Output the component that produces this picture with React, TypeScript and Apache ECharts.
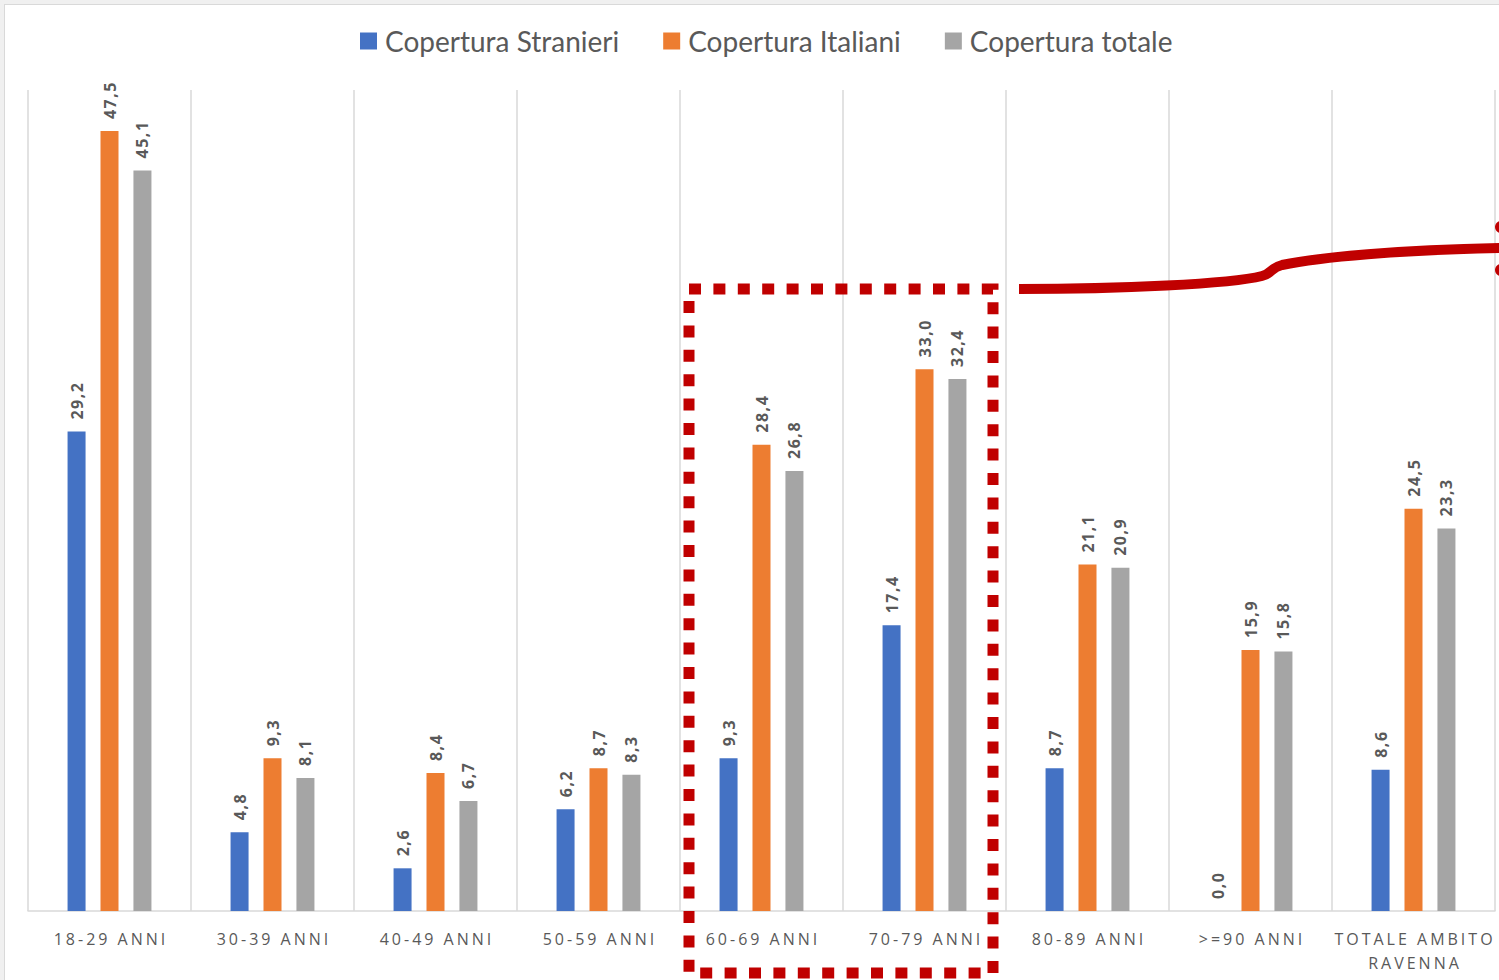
import React, { useEffect, useRef } from "react";
import * as echarts from "echarts";

const categories = [
  "18-29 ANNI",
  "30-39 ANNI",
  "40-49 ANNI",
  "50-59 ANNI",
  "60-69 ANNI",
  "70-79 ANNI",
  "80-89 ANNI",
  ">=90 ANNI",
  "TOTALE AMBITO\nRAVENNA",
];
const stranieri = [29.2, 4.8, 2.6, 6.2, 9.3, 17.4, 8.7, 0.0, 8.6];
const italiani = [47.5, 9.3, 8.4, 8.7, 28.4, 33.0, 21.1, 15.9, 24.5];
const totale = [45.1, 8.1, 6.7, 8.3, 26.8, 32.4, 20.9, 15.8, 23.3];
const seriesNames = ["Copertura Stranieri", "Copertura Italiani", "Copertura totale"];
const colors = ["#4472c4", "#ed7d31", "#a5a5a5"];

const bracePath =
  "M1019,289 C1120,289 1230,284 1262,276 C1273,273 1270,268 1282,265 C1320,257 1400,250 1500,248";
let registered = false;

export default function App() {
  const ref = useRef<HTMLDivElement>(null);
  useEffect(() => {
    if (!registered) {
      echarts.graphic.registerShape("brace", echarts.graphic.extendPath(bracePath, {}));
      registered = true;
    }
    const chart = echarts.init(ref.current!, null, { renderer: "svg" });
    const fmt = (p: any) => Number(p.value).toFixed(1).replace(".", ",");
    const mkSeries = (name: string, data: number[], color: string) => ({
      name,
      type: "bar",
      data,
      barWidth: 18,
      barGap: "83%",
      itemStyle: { color },
      label: {
        show: true,
        position: "top",
        rotate: 90,
        align: "left",
        verticalAlign: "middle",
        distance: 12,
        formatter: fmt,
        color: "#595959",
        fontFamily: "Open Sans",
        fontWeight: "bold",
        fontSize: 16,
      },
    });
    chart.setOption({
      animation: false,
      backgroundColor: "transparent",
      color: colors,
      legend: {
        top: 22,
        left: 355,
        itemWidth: 17,
        itemHeight: 17,
        itemGap: 44,
        icon: "rect",
        textStyle: { color: "#595959", fontFamily: "Lato", fontSize: 28, padding: [0, 0, 0, 3] },
        data: seriesNames,
      },
      grid: { left: 28, right: 4, top: 90, bottom: 69 },
      xAxis: {
        type: "category",
        data: categories,
        axisLine: { show: true, lineStyle: { color: "#d9d9d9", width: 1.5 } },
        axisTick: { show: false },
        splitLine: { show: true, lineStyle: { color: "#d9d9d9", width: 1.5 } },
        axisLabel: {
          color: "#595959",
          fontFamily: "Open Sans",
          fontSize: 16,
          lineHeight: 24,
          margin: 16,
          interval: 0,
        },
      },
      yAxis: {
        type: "value",
        min: 0,
        max: 50,
        show: false,
        splitLine: { show: false },
      },
      series: [
        mkSeries(seriesNames[0], stranieri, colors[0]),
        mkSeries(seriesNames[1], italiani, colors[1]),
        mkSeries(seriesNames[2], totale, colors[2]),
      ],
      graphic: [
        {
          type: "rect",
          z: 100,
          shape: { x: 689, y: 289, width: 304, height: 684 },
          style: { fill: "none", stroke: "#c00000", lineWidth: 11, lineDash: [12, 12.4] },
        },
        {
          type: "brace",
          z: 100,
          x: 0,
          y: 0,
          style: { fill: "none", stroke: "#c00000", lineWidth: 10 },
        },
        { type: "circle", z: 100, shape: { cx: 1501, cy: 227, r: 6 }, style: { fill: "#c00000" } },
        { type: "circle", z: 100, shape: { cx: 1501, cy: 270, r: 6 }, style: { fill: "#c00000" } },
      ],
    });
    const svg = ref.current!.querySelector("svg");
    if (svg) {
      svg.querySelectorAll("text").forEach((t) => {
        const s = t.textContent || "";
        if (/ANNI|TOTALE|RAVENNA/.test(s)) {
          t.setAttribute("letter-spacing", "3");
          t.setAttribute("dx", "1.5");
        } else if (/^\d+,\d$/.test(s)) {
          t.setAttribute("letter-spacing", "1.5");
        }
      });
    }
    return () => chart.dispose();
  }, []);
  return (
    <div style={{ position: "fixed", left: 0, top: 0, width: 1499, height: 980, background: "#f0f0f0" }}>
      <div
        style={{
          position: "absolute",
          left: 4,
          top: 4,
          right: 0,
          bottom: 0,
          background: "#ffffff",
          borderLeft: "1px solid #d9d9d9",
          borderTop: "1px solid #d9d9d9",
        }}
      />
      <div ref={ref} style={{ position: "absolute", left: 0, top: 0, width: 1499, height: 980 }} />
    </div>
  );
}
